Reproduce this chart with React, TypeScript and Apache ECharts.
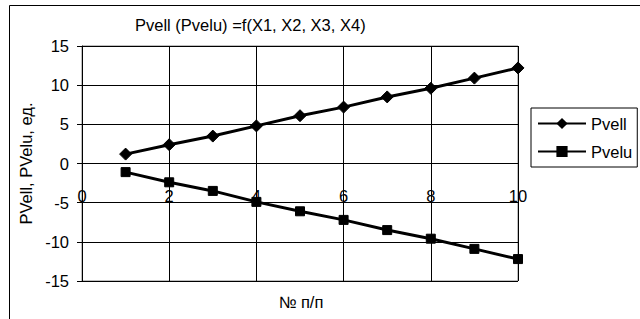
import React, { useEffect, useRef } from "react";
import * as echarts from "echarts";

const xValues = [1, 2, 3, 4, 5, 6, 7, 8, 9, 10];
const pvell = [1.2, 2.4, 3.5, 4.8, 6.1, 7.2, 8.5, 9.6, 10.9, 12.2];
const pvelu = [-1.1, -2.4, -3.5, -4.9, -6.1, -7.2, -8.5, -9.6, -10.9, -12.2];
const titleText = "Pvell (Pvelu) =f(X1, X2, X3, X4)";
const yAxisName = "PVell, PVelu, ед.";
const xAxisName = "№ п/п";

const FONT = "Liberation Sans, Arial, sans-serif";
const FS = 16.5;

export default function App() {
  const ref = useRef<HTMLDivElement>(null);
  useEffect(() => {
    if (!ref.current) return;
    const chart = echarts.init(ref.current, undefined, { renderer: "svg" });
    chart.setOption({
      animation: false,
      backgroundColor: "#ffffff",
      textStyle: { fontFamily: FONT, color: "#000" },
      title: {
        text: titleText,
        left: 135,
        top: 16,
        padding: 0,
        textStyle: { fontFamily: FONT, fontSize: FS, fontWeight: "normal", color: "#000" },
      },
      graphic: [
        {
          type: "rect",
          shape: { x: 9.5, y: 5.5, width: 700, height: 400 },
          style: { fill: "none", stroke: "#000", lineWidth: 1 },
          silent: true,
        },
        {
          type: "text",
          x: 301,
          y: 302,
          style: {
            text: xAxisName,
            fontFamily: FONT,
            fontSize: FS,
            fill: "#000",
            textAlign: "center",
            textVerticalAlign: "middle",
          },
        },
      ],
      legend: {
        orient: "vertical",
        left: 531,
        top: 108,
        padding: [7, 5, 7, 6],
        itemGap: 11,
        itemWidth: 48,
        itemHeight: 14,
        borderColor: "#000",
        borderWidth: 1,
        borderRadius: 0,
        textStyle: { fontFamily: FONT, fontSize: FS, color: "#000" },
        data: ["Pvell", "Pvelu"],
      },
      grid: {
        left: 82,
        right: 122,
        top: 46,
        bottom: 38,
        show: true,
        borderColor: "#808080",
        borderWidth: 1,
        backgroundColor: "#fff",
      },
      xAxis: {
        type: "value",
        min: 0,
        max: 10,
        interval: 2,
        position: "bottom",
        axisLine: { show: false, onZero: false },
        axisTick: { show: false },
        axisLabel: { margin: -94, fontSize: FS, color: "#000", fontFamily: FONT },
        splitLine: { show: true, lineStyle: { color: "#000", width: 1 } },
      },
      yAxis: {
        type: "value",
        min: -15,
        max: 15,
        interval: 5,
        name: yAxisName,
        nameLocation: "middle",
        nameGap: 46,
        nameTextStyle: { fontSize: FS, color: "#000", fontFamily: FONT },
        axisLine: { show: true, onZero: false, lineStyle: { color: "#000", width: 1 } },
        axisTick: { show: true, inside: false, length: 5, lineStyle: { color: "#000" } },
        axisLabel: { margin: 13, fontSize: FS, color: "#000", fontFamily: FONT },
        splitLine: { show: true, lineStyle: { color: "#000", width: 1 } },
      },
      series: [
        {
          name: "Pvell",
          type: "line",
          data: xValues.map((x, i) => [x, pvell[i]]),
          symbol: "diamond",
          symbolSize: 12,
          lineStyle: { color: "#000", width: 3 },
          itemStyle: { color: "#000", borderColor: "#000" },
        },
        {
          name: "Pvelu",
          type: "line",
          data: xValues.map((x, i) => [x, pvelu[i]]),
          symbol: "rect",
          symbolSize: 9,
          lineStyle: { color: "#000", width: 3 },
          itemStyle: { color: "#000", borderColor: "#000" },
        },
      ],
    });
    return () => chart.dispose();
  }, []);
  return (
    <div
      ref={ref}
      style={{ position: "absolute", left: 0, top: 0, width: 640, height: 319 }}
    />
  );
}
